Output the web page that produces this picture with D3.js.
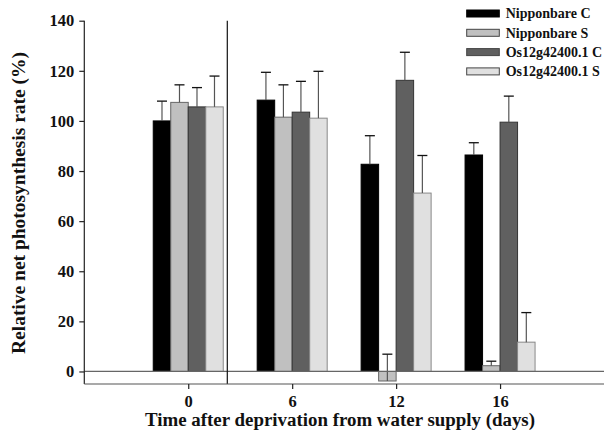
<!DOCTYPE html>
<html><head><meta charset="utf-8">
<script src="https://cdn.jsdelivr.net/npm/d3@7"></script>
<style>body{margin:0;background:#fff}svg{display:block}text{font-family:"Liberation Serif","Times New Roman",serif;font-weight:bold;fill:#111}</style>
</head><body>
<svg id="c" width="610" height="437"></svg>
<script>
const days = ["0", "6", "12", "16"];
const seriesNames = ["Nipponbare C", "Nipponbare S", "Os12g42400.1 C", "Os12g42400.1 S"];
const nipponbareC = [100, 108.3, 82.7, 86.4];
const nipponbareS = [107.4, 101.5, -3.8, 2.3];
const osC = [105.6, 103.5, 116.2, 99.5];
const osS = [105.6, 101.1, 71.2, 11.7];
const errNipponbareC = [7.9, 11.1, 11.4, 4.9];
const errNipponbareS = [7.0, 12.9, 10.7, 1.8];
const errOsC = [7.7, 12.3, 11.2, 10.4];
const errOsS = [12.3, 18.7, 15.0, 11.8];
const yTicks = [0, 20, 40, 60, 80, 100, 120, 140];

const values = [nipponbareC, nipponbareS, osC, osS];
const errs = [errNipponbareC, errNipponbareS, errOsC, errOsS];
const fills = ["#000000", "#c0c0c0", "#606060", "#e0e0e0"];
const strokes = ["#000000", "#666666", "#333333", "#888888"];

const svg = d3.select("#c");
const L = 84.3, R = 604, T = 20.7, B = 384;
const y = d3.scaleLinear().domain([-5, 140]).range([B, T]);
const x = d3.scalePoint().domain(days).range([L, R]).padding(1);
const xi = d3.scaleBand().domain(seriesNames).range([-35, 35]);

const data = [];
seriesNames.forEach((s, si) => days.forEach((d, di) => data.push({s, si, d, v: values[si][di], e: errs[si][di]})));

svg.append("g").selectAll("rect").data(data).join("rect")
  .attr("x", d => x(d.d) + xi(d.s))
  .attr("width", xi.bandwidth())
  .attr("y", d => y(Math.max(0, d.v)))
  .attr("height", d => Math.abs(y(d.v) - y(0)))
  .attr("fill", d => fills[d.si])
  .attr("stroke", d => strokes[d.si])
  .attr("stroke-width", 1);

const eg = svg.append("g");
data.forEach(d => {
  const cx = x(d.d) + xi(d.s) + xi.bandwidth() / 2;
  eg.append("line").attr("x1", cx).attr("x2", cx).attr("y1", y(d.v)).attr("y2", y(d.v + d.e))
    .attr("stroke", "#555").attr("stroke-width", 1.2);
  eg.append("line").attr("x1", cx - 5).attr("x2", cx + 5).attr("y1", y(d.v + d.e)).attr("y2", y(d.v + d.e))
    .attr("stroke", "#111").attr("stroke-width", 1.3);
});

svg.append("line").attr("x1", L).attr("x2", R).attr("y1", y(0)).attr("y2", y(0)).attr("stroke", "#666").attr("stroke-width", 1.2);
svg.append("line").attr("x1", 227.3).attr("x2", 227.3).attr("y1", T).attr("y2", B).attr("stroke", "#111").attr("stroke-width", 1.2);

const ya = svg.append("g").attr("transform", `translate(${L},0)`)
  .call(d3.axisLeft(y).tickValues(yTicks).tickSize(5).tickPadding(5).tickSizeOuter(0));
ya.select(".domain").attr("d", `M0,${T}V${B}`).attr("stroke", "#222").attr("stroke-width", 1.2);
ya.selectAll(".tick line").attr("stroke", "#222").attr("stroke-width", 1.2);
ya.selectAll(".tick text").style("font-size", "16.5px").style("font-family", "Liberation Serif").style("font-weight", "bold").attr("fill", "#111");

const xa = svg.append("g").attr("transform", `translate(0,${B})`)
  .call(d3.axisBottom(x).tickSize(5).tickPadding(6).tickSizeOuter(0));
xa.select(".domain").attr("d", `M${L},0H${R}`).attr("stroke", "#555").attr("stroke-width", 1.2);
xa.selectAll(".tick line").attr("stroke", "#222").attr("stroke-width", 1.2);
xa.selectAll(".tick text").style("font-size", "16.5px").style("font-family", "Liberation Serif").style("font-weight", "bold").attr("fill", "#111");

svg.append("text").attr("x", 340).attr("y", 426).attr("text-anchor", "middle").style("font-size", "18.5px")
  .attr("textLength", 390).attr("lengthAdjust", "spacingAndGlyphs")
  .text("Time after deprivation from water supply (days)");
svg.append("text").attr("transform", "translate(24.5,203) rotate(-90)").attr("text-anchor", "middle").style("font-size", "18px")
  .attr("textLength", 302).attr("lengthAdjust", "spacingAndGlyphs")
  .text("Relative net photosynthesis rate (%)");

const lg = svg.append("g");
seriesNames.forEach((s, i) => {
  const cy = 13.5 + i * 19.3;
  lg.append("rect").attr("x", 466.7).attr("y", cy - 3.5).attr("width", 32.6).attr("height", 7)
    .attr("fill", fills[i]).attr("stroke", i === 0 ? "#000" : "#444").attr("stroke-width", 1);
  lg.append("text").attr("x", 505.7).attr("y", cy + 4.9).style("font-size", "14px").text(s);
});
</script>
</body></html>
